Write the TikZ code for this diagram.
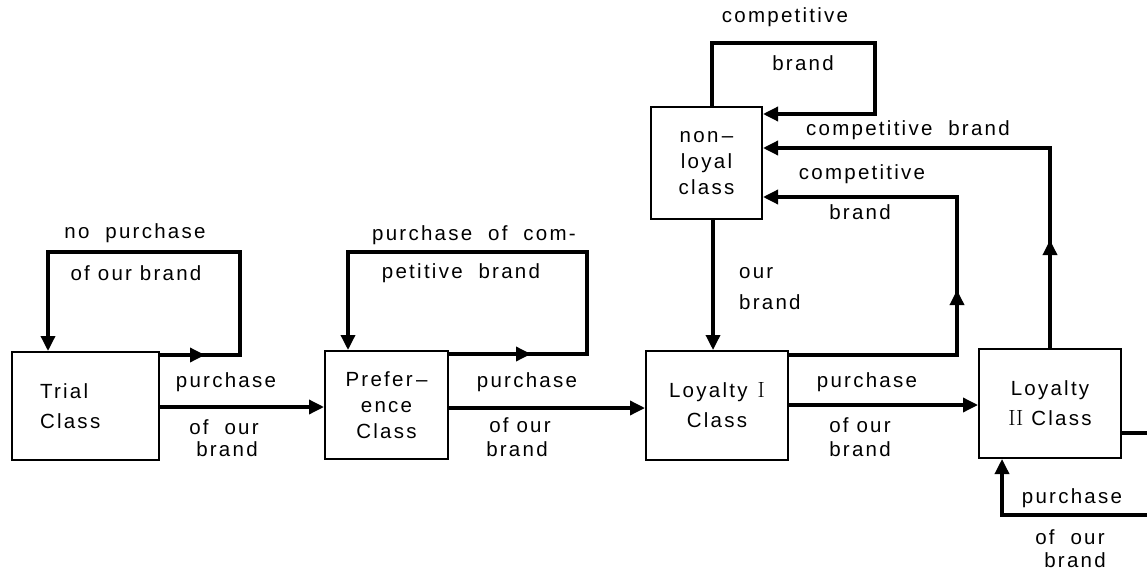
\documentclass[tikz,border=0pt]{standalone}
\usepackage{fontspec}
\setsansfont[LetterSpace=11]{Liberation Sans}
\usetikzlibrary{arrows.meta,calc}
\begin{document}
\begin{tikzpicture}[x=1pt,y=-1pt,
  every node/.style={font=\sffamily\fontsize{20.5}{26}\selectfont, inner sep=0pt},
  box/.style={draw, line width=2pt, align=center},
  ln/.style={line width=3.4pt, line join=miter},
  arr/.style={ln, -{Triangle[length=15pt,width=14pt]}},
  lbl/.style={anchor=center},
  rn/.style={font=\rmfamily\fontsize{22}{26}\selectfont}]
\useasboundingbox (0,0) rectangle (1147,572);
% boxes
\node[box, minimum width=147pt, minimum height=108pt, text width=91pt, align=left] (trial) at (85.5,406) {Trial\\[4pt]Class};
\node[box, minimum width=123pt, minimum height=108pt] (pref) at (386.5,405) {Prefer\,--\\ence\\Class};
\node[box, minimum width=142pt, minimum height=109pt] (loy1) at (717,405.5) {Loyalty \textrm{\fontsize{22}{26}\selectfont I}\\[4pt]Class};
\node[box, minimum width=111pt, minimum height=112pt] (nonl) at (706.5,163) {non\,--\\loyal\\class};
\node[box, minimum width=142pt, minimum height=109pt] (loy2) at (1050,403.5) {Loyalty\\[4pt]\textrm{\fontsize{22}{26}\selectfont II} Class};
% coordinates
\coordinate (t1) at (240,252);
\coordinate (t2) at (48,252);
\coordinate (p1) at (587,252);
\coordinate (p2) at (348,252);
\coordinate (n1) at (712,43);
\coordinate (n2) at (875,43);
\coordinate (n3) at (875,114);
\coordinate (c1) at (1050,148);
\coordinate (c2) at (957,197);
\coordinate (c3) at (957,290);
\coordinate (c4) at (1050,240);
\coordinate (r1) at (1147,433);
\coordinate (r2) at (1147,515);
\coordinate (r3) at (1002,515);
\coordinate (y407) at (0,407);
\coordinate (y408) at (0,408);
\coordinate (y405) at (0,405);
\coordinate (x713) at (713,0);
% trial loop
\draw[arr] ([yshift=-4pt]trial.north east) -| (t1) -- (t2) -- (t2 |- trial.north);
\draw[arr] ([yshift=-4pt]trial.north east) -- ++(45,0);
% preference loop
\draw[arr] ([yshift=-4pt]pref.north east) -| (p1) -- (p2) -- (p2 |- pref.north);
\draw[arr] ([yshift=-4pt]pref.north east) -- ++(82,0);
% main chain
\draw[arr] (trial.east |- y407) -- (pref.west |- y407);
\draw[arr] (pref.east |- y408) -- (loy1.west |- y408);
\draw[arr] (loy1.east |- y405) -- (loy2.west |- y405);
% non-loyal self loop
\draw[arr] (n1 |- nonl.north) -- (n1) -- (n2) -- (n3) -- (nonl.east |- n3);
% non-loyal to loyalty I
\draw[arr] (x713 |- nonl.south) -- (x713 |- loy1.north);
% loyalty I to non-loyal
\draw[arr] ([yshift=-5pt]loy1.north east) -| (c2) -- (nonl.east |- c2);
\draw[arr] ([yshift=-5pt]loy1.north east) -| (c3);
% loyalty II to non-loyal
\draw[arr] (c1 |- loy2.north) -- (c1) -- (nonl.east |- c1);
\draw[arr] (c1 |- loy2.north) -- (c4);
% loyalty II self loop (off right edge)
\draw[ln] (loy2.east |- r1) -- (r1);
\draw[arr] (r2) -- (r3) -- (r3 |- loy2.south);
% labels
\node[lbl] (la1) at (135,233) {no\ \ purchase};
\node[lbl] (la2) at (136,273) {of our brand};
\node[lbl] (la3) at (226,382) {purchase};
\node[lbl] (la4) at (224,427) {of\ \ our};
\node[lbl] (la5) at (227,449) {brand};
\node[lbl] (lb1) at (474,235) {purchase\ \ of\ \ com-};
\node[lbl] (lb2) at (461,273) {petitive\ \ brand};
\node[lbl] (lb3) at (527,382) {purchase};
\node[lbl] (lb4) at (520,425) {of our};
\node[lbl] (lb5) at (517,449) {brand};
\node[lbl] (lc1) at (867,382) {purchase};
\node[lbl] (lc2) at (860,425) {of our};
\node[lbl] (lc3) at (860,449) {brand};
\node[lbl] (ld1) at (785,17) {competitive};
\node[lbl] (ld2) at (803,63) {brand};
\node[lbl] (ld3) at (908,130) {competitive\ \ brand};
\node[lbl] (ld4) at (862,174) {competitive};
\node[lbl] (ld5) at (860,212) {brand};
\node[lbl, anchor=west] (le1) at (739,273) {our};
\node[lbl, anchor=west] (le2) at (739,302) {brand};
\node[lbl] (lf1) at (1072,498) {purchase};
\node[lbl] (lf2) at (1070,537) {of\ \ our};
\node[lbl] (lf3) at (1075,560) {brand};
\end{tikzpicture}
\end{document}
